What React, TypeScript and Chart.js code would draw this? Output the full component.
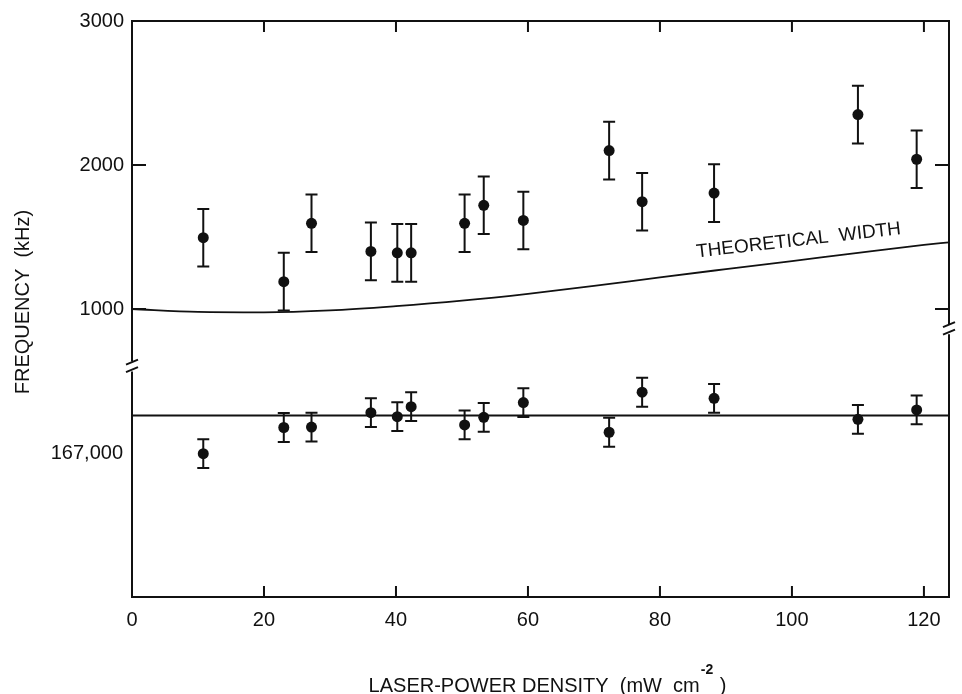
import React, { useEffect, useRef } from 'react';
import { Chart, registerables } from 'chart.js';

Chart.register(...registerables);

const FONT = '"Liberation Sans", Arial, Helvetica, sans-serif';
const INK = '#111111';

// Laser-power density (mW cm^-2) of each measurement
const xPower = [10.8, 23, 27.2, 36.2, 40.2, 42.3, 50.4, 53.3, 59.3, 72.3, 77.3, 88.2, 110, 118.9];
// Upper panel: measured width (kHz) and error
const widthKHz = [1495, 1190, 1595, 1400, 1390, 1390, 1595, 1720, 1615, 2100, 1745, 1805, 2350, 2040];
const widthErr = [200, 200, 200, 200, 200, 200, 200, 200, 200, 200, 200, 200, 200, 200];
// Lower panel: line centre frequency (kHz) and error
const centerKHz = [166995, 167177, 167180, 167280, 167252, 167322, 167195, 167248, 167350, 167144, 167422, 167380, 167234, 167299];
const centerErr = [100, 100, 100, 100, 100, 100, 100, 100, 100, 100, 100, 100, 100, 100];
// Theoretical width curve
const theoryX = [0, 10, 20, 30, 40, 50, 60, 70, 80, 90, 100, 110, 120, 123.8];
const theoryWidth = [1000, 980, 977, 990, 1020, 1058, 1105, 1160, 1220, 1277, 1333, 1390, 1445, 1463];
// Reference centre line
const centerLineX = [0, 123.8];
const centerLineValue = 167260;

// Axes
const xMin = 0;
const xMax = 123.8;
const xTickValues = [0, 20, 40, 60, 80, 100, 120];
const upperMin = 600;
const upperMax = 3000;
const upperTickValues = [1000, 2000, 3000];
const lowerMin = 166000;
const lowerMax = 167600;
const lowerTickValues = [167000];
const rightBreakValue = 860;

const yTitle = 'FREQUENCY  (kHz)';
const xTitleMain = 'LASER-POWER DENSITY  (mW  cm';
const xTitleSup = '-2';
const xTitleEnd = ' )';
const curveLabel = 'THEORETICAL  WIDTH';
const curveLabelX = 101.1;
const curveLabelY = 1439;

export default function App() {
  const ref = useRef<HTMLCanvasElement>(null);

  useEffect(() => {
    if (!ref.current) return;

    const errorBars = {
      id: 'errorBars',
      afterDatasetsDraw(chart: any) {
        const ctx = chart.ctx;
        const xs = chart.scales.x;
        ctx.save();
        ctx.strokeStyle = INK;
        ctx.lineWidth = 2;
        chart.data.datasets.forEach((ds: any) => {
          if (!ds.errors) return;
          const ys = chart.scales[ds.yAxisID];
          ds.data.forEach((p: any, i: number) => {
            const e = ds.errors[i];
            const px = xs.getPixelForValue(p.x);
            const top = ys.getPixelForValue(p.y + e);
            const bot = ys.getPixelForValue(p.y - e);
            ctx.beginPath();
            ctx.moveTo(px, top);
            ctx.lineTo(px, bot);
            ctx.moveTo(px - 6, top);
            ctx.lineTo(px + 6, top);
            ctx.moveTo(px - 6, bot);
            ctx.lineTo(px + 6, bot);
            ctx.stroke();
          });
        });
        ctx.restore();
      },
    };

    const frame = {
      id: 'frame',
      afterDraw(chart: any) {
        const ctx = chart.ctx;
        const a = chart.chartArea;
        const xs = chart.scales.x;
        const yU = chart.scales.yUpper;
        const yL = chart.scales.yLower;
        const breakL = yU.bottom;
        const breakR = yU.getPixelForValue(rightBreakValue);
        ctx.save();
        ctx.strokeStyle = INK;
        ctx.fillStyle = INK;
        ctx.lineWidth = 2;
        ctx.lineCap = 'butt';
        ctx.beginPath();
        // top & bottom
        ctx.moveTo(a.left - 1, a.top);
        ctx.lineTo(a.right + 1, a.top);
        ctx.moveTo(a.left - 1, a.bottom);
        ctx.lineTo(a.right + 1, a.bottom);
        // left with break
        ctx.moveTo(a.left, a.top);
        ctx.lineTo(a.left, breakL - 5);
        ctx.moveTo(a.left, breakL + 5);
        ctx.lineTo(a.left, a.bottom);
        // right with break
        ctx.moveTo(a.right, a.top);
        ctx.lineTo(a.right, breakR - 5);
        ctx.moveTo(a.right, breakR + 5);
        ctx.lineTo(a.right, a.bottom);
        ctx.stroke();
        // break slashes
        const slash = (x: number, y: number) => {
          ctx.beginPath();
          ctx.moveTo(x - 6, y);
          ctx.lineTo(x + 6, y - 5);
          ctx.moveTo(x - 6, y + 7.5);
          ctx.lineTo(x + 6, y + 2.5);
          ctx.stroke();
        };
        slash(a.left, breakL - 2);
        slash(a.right, breakR - 2);
        // x ticks, inward
        ctx.beginPath();
        xs.ticks.forEach((t: any) => {
          if (t.value <= xMin) return;
          const px = xs.getPixelForValue(t.value);
          ctx.moveTo(px, a.top);
          ctx.lineTo(px, a.top + 11);
          ctx.moveTo(px, a.bottom);
          ctx.lineTo(px, a.bottom - 11);
        });
        // y ticks, inward
        [yU, yL].forEach((s: any) => {
          s.ticks.forEach((t: any) => {
            if (t.value >= upperMax) return;
            const py = s.getPixelForValue(t.value);
            ctx.moveTo(a.left, py);
            ctx.lineTo(a.left + 14, py);
            ctx.moveTo(a.right, py);
            ctx.lineTo(a.right - 14, py);
          });
        });
        ctx.stroke();

        // curve label
        ctx.save();
        ctx.translate(xs.getPixelForValue(curveLabelX), yU.getPixelForValue(curveLabelY));
        ctx.rotate(-0.114);
        ctx.font = `19px ${FONT}`;
        ctx.textAlign = 'center';
        ctx.textBaseline = 'alphabetic';
        ctx.fillText(curveLabel, 0, 0);
        ctx.restore();

        // y title
        ctx.save();
        ctx.translate(23, (a.top + a.bottom) / 2 - 7);
        ctx.rotate(-Math.PI / 2);
        ctx.font = `20px ${FONT}`;
        ctx.textAlign = 'center';
        ctx.textBaseline = 'middle';
        ctx.fillText(yTitle, 0, 0);
        ctx.restore();

        // x title with superscript
        ctx.font = `20px ${FONT}`;
        const w1 = ctx.measureText(xTitleMain).width;
        const w3 = ctx.measureText(xTitleEnd).width;
        ctx.font = `bold 14px ${FONT}`;
        const w2 = ctx.measureText(xTitleSup).width;
        const total = w1 + w2 + w3 + 2;
        const cx = (a.left + a.right) / 2 + 7;
        const base = 692;
        let x0 = cx - total / 2;
        ctx.textAlign = 'left';
        ctx.textBaseline = 'alphabetic';
        ctx.font = `20px ${FONT}`;
        ctx.fillText(xTitleMain, x0, base);
        x0 += w1 + 1;
        ctx.font = `bold 14px ${FONT}`;
        ctx.fillText(xTitleSup, x0, base - 18);
        x0 += w2 + 1;
        ctx.font = `20px ${FONT}`;
        ctx.fillText(xTitleEnd, x0, base);
        ctx.restore();
      },
    };

    const chart = new Chart(ref.current, {
      type: 'scatter',
      data: {
        datasets: [
          {
            type: 'line',
            label: 'theory',
            data: theoryX.map((x, i) => ({ x, y: theoryWidth[i] })),
            yAxisID: 'yUpper',
            borderColor: INK,
            borderWidth: 1.8,
            pointRadius: 0,
            cubicInterpolationMode: 'monotone',
            fill: false,
          },
          {
            type: 'line',
            label: 'centre',
            data: centerLineX.map((x) => ({ x, y: centerLineValue })),
            yAxisID: 'yLower',
            borderColor: INK,
            borderWidth: 2,
            pointRadius: 0,
            fill: false,
          },
          {
            label: 'width',
            data: xPower.map((x, i) => ({ x, y: widthKHz[i] })),
            errors: widthErr,
            yAxisID: 'yUpper',
            pointRadius: 5.5,
            pointBackgroundColor: INK,
            pointBorderWidth: 0,
          } as any,
          {
            label: 'centre freq',
            data: xPower.map((x, i) => ({ x, y: centerKHz[i] })),
            errors: centerErr,
            yAxisID: 'yLower',
            pointRadius: 5.5,
            pointBackgroundColor: INK,
            pointBorderWidth: 0,
          } as any,
        ],
      },
      options: {
        responsive: false,
        animation: false,
        devicePixelRatio: 1,
        layout: { padding: { left: 8, right: 13, top: 21, bottom: 0 } },
        plugins: {
          legend: { display: false },
          tooltip: { enabled: false },
        },
        scales: {
          x: {
            type: 'linear',
            min: xMin,
            max: xMax,
            grid: { display: false, drawTicks: false },
            border: { display: false },
            afterBuildTicks: (s: any) => {
              s.ticks = xTickValues.map((v) => ({ value: v }));
            },
            afterFit: (s: any) => {
              s.height = 97;
            },
            ticks: {
              color: INK,
              padding: 11,
              maxRotation: 0,
              font: { family: FONT, size: 20 },
              callback: (v: any) => String(v),
            },
          },
          yUpper: {
            type: 'linear',
            position: 'left',
            stack: 'freq',
            stackWeight: upperMax - upperMin,
            weight: 1,
            min: upperMin,
            max: upperMax,
            grid: { display: false, drawTicks: false },
            border: { display: false },
            afterBuildTicks: (s: any) => {
              s.ticks = upperTickValues.map((v) => ({ value: v }));
            },
            afterFit: (s: any) => {
              s.width = 124;
            },
            ticks: {
              color: INK,
              padding: 8,
              font: { family: FONT, size: 20 },
              callback: (v: any) => String(v),
            },
          },
          yLower: {
            type: 'linear',
            position: 'left',
            stack: 'freq',
            stackWeight: lowerMax - lowerMin,
            weight: 0,
            min: lowerMin,
            max: lowerMax,
            grid: { display: false, drawTicks: false },
            border: { display: false },
            afterBuildTicks: (s: any) => {
              s.ticks = lowerTickValues.map((v) => ({ value: v }));
            },
            afterFit: (s: any) => {
              s.width = 124;
            },
            ticks: {
              color: INK,
              padding: 9,
              font: { family: FONT, size: 20 },
              callback: (v: any) => Number(v).toLocaleString('en-US'),
            },
          },
        },
      } as any,
      plugins: [errorBars, frame],
    });

    return () => chart.destroy();
  }, []);

  return (
    <div style={{ position: 'absolute', left: 0, top: 0, width: 962, height: 694, background: '#fff' }}>
      <canvas ref={ref} width={962} height={694} style={{ display: 'block' }} />
    </div>
  );
}
